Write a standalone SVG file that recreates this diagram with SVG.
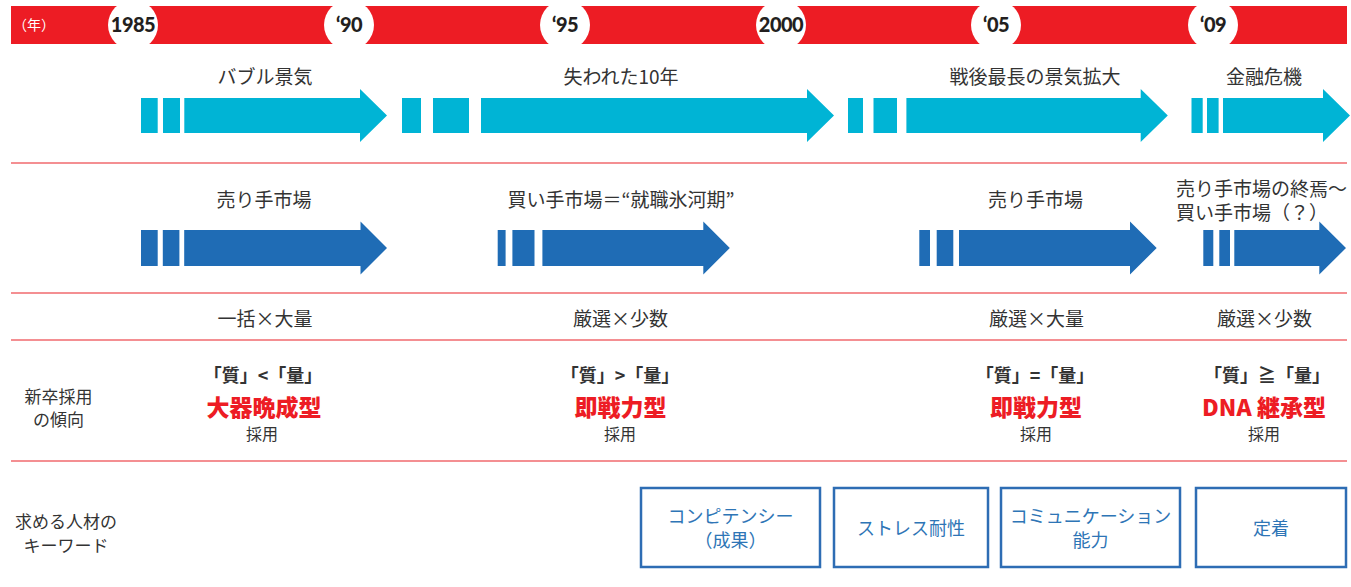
<svg xmlns="http://www.w3.org/2000/svg" width="1351" height="587" viewBox="0 0 1351 587">
<style>
.jp{font-family:"Noto Sans CJK JP","Noto Sans",sans-serif;}
.lbl{font-size:19px;fill:#333;text-anchor:middle;}
.yr{font-family:Lato,"Liberation Sans",sans-serif;font-weight:900;font-size:20px;fill:#231F20;text-anchor:middle;letter-spacing:-0.5px;}
.cmp{font-size:18px;font-weight:700;fill:#333;text-anchor:middle;}
.typ{font-size:23px;font-weight:900;fill:#ED1C24;}
.sai{font-size:16px;font-weight:400;fill:#333;}
.tr{text-anchor:middle;}
.kw{font-size:18px;fill:#2E75B6;text-anchor:middle;}
.box{fill:#fff;stroke:#2E6DB4;stroke-width:2.5;}
.sep{stroke:#F06A6E;stroke-width:1.5;}
.cy{fill:#00B4D5;}
.bl{fill:#1F6CB5;}
.side{font-size:17px;fill:#333;text-anchor:middle;}
</style>

<g id="timeline">
  <rect x="11" y="6" width="1336" height="38" fill="#ED1C24"/>
  <text class="jp" x="13" y="30" font-size="14" fill="#fff">（年）</text>
  <circle cx="133" cy="25" r="25" fill="#fff"/>
  <circle cx="349" cy="25" r="25" fill="#fff"/>
  <circle cx="565" cy="25" r="25" fill="#fff"/>
  <circle cx="781" cy="25" r="25" fill="#fff"/>
  <circle cx="996" cy="25" r="25" fill="#fff"/>
  <circle cx="1213" cy="25" r="25" fill="#fff"/>
  <rect x="0" y="0" width="1351" height="6" fill="#fff"/>
  <rect x="0" y="44" width="1351" height="12" fill="#fff"/>
  <text class="yr" x="133" y="32">1985</text>
  <text class="yr" x="349" y="32">‘90</text>
  <text class="yr" x="565" y="32">‘95</text>
  <text class="yr" x="781" y="32">2000</text>
  <text class="yr" x="996" y="32">‘05</text>
  <text class="yr" x="1213" y="32">‘09</text>
</g>

<g id="separators">
  <line class="sep" x1="11" y1="163" x2="1347" y2="163"/>
  <line class="sep" x1="11" y1="293" x2="1347" y2="293"/>
  <line class="sep" x1="11" y1="340" x2="1347" y2="340"/>
  <line class="sep" x1="11" y1="461" x2="1347" y2="461"/>
</g>

<g id="economy">
  <g id="eco-bubble">
    <text class="jp lbl" x="265" y="84">バブル景気</text>
    <rect class="cy" x="141" y="98" width="16.7" height="35"/>
    <rect class="cy" x="163" y="98" width="17" height="35"/>
    <polygon class="cy" points="184.3,98 360,98 360,89 387,115.5 360,142 360,133 184.3,133"/>
  </g>
  <g id="eco-lost">
    <text class="jp lbl" x="621" y="84">失われた10年</text>
    <rect class="cy" x="402" y="98" width="19" height="35"/>
    <rect class="cy" x="433" y="98" width="36" height="35"/>
    <polygon class="cy" points="481,98 807,98 807,89 834,115.5 807,142 807,133 481,133"/>
  </g>
  <g id="eco-expansion">
    <text class="jp lbl" x="1035" y="84">戦後最長の景気拡大</text>
    <rect class="cy" x="848" y="98" width="15" height="35"/>
    <rect class="cy" x="873.5" y="98" width="23.5" height="35"/>
    <polygon class="cy" points="906.4,98 1140.7,98 1140.7,89 1167.8,115.5 1140.7,142 1140.7,133 906.4,133"/>
  </g>
  <g id="eco-crisis">
    <text class="jp lbl" x="1264" y="84">金融危機</text>
    <rect class="cy" x="1191.5" y="98" width="11.2" height="35"/>
    <rect class="cy" x="1207" y="98" width="11.6" height="35"/>
    <polygon class="cy" points="1223,98 1323,98 1323,89 1350,115.5 1323,142 1323,133 1223,133"/>
  </g>
</g>

<g id="market">
  <g id="mkt-sellers1">
    <text class="jp lbl" x="264" y="207">売り手市場</text>
    <rect class="bl" x="141" y="230" width="16.7" height="36"/>
    <rect class="bl" x="162.8" y="230" width="16.6" height="36"/>
    <polygon class="bl" points="184.2,230 360.5,230 360.5,221.5 387,248 360.5,274.5 360.5,266 184.2,266"/>
  </g>
  <g id="mkt-buyers">
    <text class="jp lbl" x="621" y="207">買い手市場＝“就職氷河期”</text>
    <rect class="bl" x="497.7" y="230" width="7.9" height="36"/>
    <rect class="bl" x="512.4" y="230" width="22.1" height="36"/>
    <polygon class="bl" points="542.4,230 703.3,230 703.3,221.5 729.8,248 703.3,274.5 703.3,266 542.4,266"/>
  </g>
  <g id="mkt-sellers2">
    <text class="jp lbl" x="1035.5" y="207">売り手市場</text>
    <rect class="bl" x="919.3" y="230" width="10.7" height="36"/>
    <rect class="bl" x="936.7" y="230" width="16.6" height="36"/>
    <polygon class="bl" points="959,230 1130,230 1130,221.5 1156.7,248 1130,274.5 1130,266 959,266"/>
  </g>
  <g id="mkt-end">
    <text class="jp" font-size="19" fill="#333"><tspan x="1176" y="196">売り手市場の終焉〜</tspan><tspan x="1176" y="220">買い手市場（？）</tspan></text>
    <rect class="bl" x="1203.3" y="230" width="10" height="36"/>
    <rect class="bl" x="1219.3" y="230" width="10.7" height="36"/>
    <polygon class="bl" points="1234.3,230 1319.3,230 1319.3,221.5 1346,248 1319.3,274.5 1319.3,266 1234.3,266"/>
  </g>
</g>

<g id="volume">
  <text class="jp lbl" x="265" y="326">一括×大量</text>
  <text class="jp lbl" x="620.5" y="326">厳選×少数</text>
  <text class="jp lbl" x="1036.5" y="326">厳選×大量</text>
  <text class="jp lbl" x="1264.5" y="326">厳選×少数</text>
</g>

<g id="trend">
  <g id="trend-label">
    <text class="jp side"><tspan x="58.5" y="403">新卒採用</tspan><tspan x="58.5" y="426">の傾向</tspan></text>
  </g>
  <g id="trend-1985">
    <text class="jp cmp" x="263" y="382">「質」&lt;「量」</text>
    <text class="jp tr"><tspan class="typ" x="264" y="416">大器晩成型</tspan><tspan class="sai" x="262" y="440">採用</tspan></text>
  </g>
  <g id="trend-1995">
    <text class="jp cmp" x="620" y="382">「質」&gt;「量」</text>
    <text class="jp tr"><tspan class="typ" x="620.5" y="416">即戦力型</tspan><tspan class="sai" x="620" y="440">採用</tspan></text>
  </g>
  <g id="trend-2005">
    <text class="jp cmp" x="1035" y="382">「質」=「量」</text>
    <text class="jp tr"><tspan class="typ" x="1036" y="416">即戦力型</tspan><tspan class="sai" x="1036" y="440">採用</tspan></text>
  </g>
  <g id="trend-2009">
    <text class="jp cmp" x="1267" y="382">「質」≧「量」</text>
    <text class="jp tr"><tspan class="typ" x="1264" y="416">DNA 継承型</tspan><tspan class="sai" x="1264" y="440">採用</tspan></text>
  </g>
</g>

<g id="keywords">
  <g id="kw-label">
    <text class="jp side"><tspan x="66" y="528">求める人材の</tspan><tspan x="66" y="552">キーワード</tspan></text>
  </g>
  <g id="kw-competency">
    <rect class="box" x="641" y="488" width="179" height="79"/>
    <text class="jp kw"><tspan x="730.5" y="523">コンピテンシー</tspan><tspan x="730.5" y="547">（成果）</tspan></text>
  </g>
  <g id="kw-stress">
    <rect class="box" x="834" y="488" width="154" height="79"/>
    <text class="jp kw" x="911" y="535">ストレス耐性</text>
  </g>
  <g id="kw-communication">
    <rect class="box" x="1001" y="488" width="179" height="79"/>
    <text class="jp kw"><tspan x="1090.5" y="523">コミュニケーション</tspan><tspan x="1090.5" y="547">能力</tspan></text>
  </g>
  <g id="kw-retention">
    <rect class="box" x="1196" y="488" width="150" height="79"/>
    <text class="jp kw" x="1271" y="535">定着</text>
  </g>
</g>
</svg>
